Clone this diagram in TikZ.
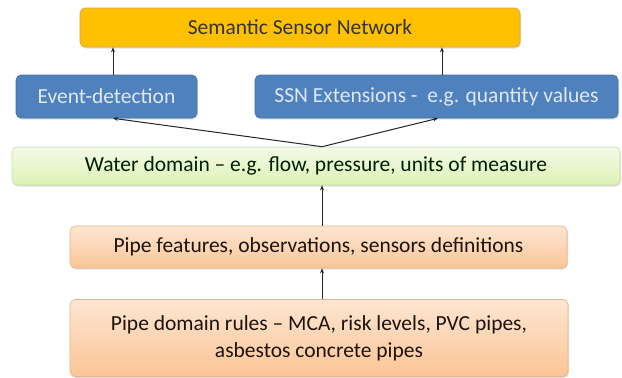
\documentclass[tikz,border=0pt]{standalone}
\usepackage{fontspec}
\setmainfont{Carlito}
\usetikzlibrary{arrows.meta,shadows,calc}
\definecolor{ssnfill}{HTML}{FFC000}
\definecolor{ssnline}{HTML}{D9A05A}
\definecolor{bluefill}{HTML}{4F81BD}
\definecolor{blueline}{HTML}{4171AA}
\definecolor{bluetext}{HTML}{DDE8F5}
\definecolor{greentop}{HTML}{F4FAE8}
\definecolor{greenbot}{HTML}{DDF2B4}
\definecolor{greenline}{HTML}{C9DDA8}
\definecolor{peachtop}{HTML}{FDE6D2}
\definecolor{peachbot}{HTML}{FBC596}
\definecolor{peachline}{HTML}{E8B48C}
\tikzset{
  box/.style={rectangle, rounded corners=5pt, line width=0.6pt, inner sep=2pt,
    font=\fontsize{21.5}{27}\selectfont, align=center,
    drop shadow={shadow xshift=1pt, shadow yshift=-1.5pt, opacity=0.25}},
  goldbox/.style={box, fill=ssnfill, draw=ssnline, text=black!80},
  bluebox/.style={box, fill=bluefill, draw=blueline, text=bluetext},
  greenbox/.style={box, top color=greentop, bottom color=greenbot, draw=greenline, text=black!80!green!60!black},
  peachbox/.style={box, top color=peachtop, bottom color=peachbot, draw=peachline, text=black!85!brown},
  arr/.style={-{Stealth[length=5pt,width=4pt]}, line width=1pt, draw=black!85}
}
\begin{document}
\begin{tikzpicture}[x=1pt,y=-1pt]
\useasboundingbox (0,0) rectangle (622,378);
\node[goldbox, minimum width=440pt, minimum height=39pt] (ssn) at (300,27.5) {Semantic Sensor Network};
\node[bluebox, minimum width=181pt, minimum height=43pt] (ev) at (106.5,96.5) {Event-detection};
\node[bluebox, minimum width=363pt, minimum height=43pt] (ext) at (436.5,96.5) {SSN Extensions -\ \ e.g. quantity values};
\node[greenbox, minimum width=608pt, minimum height=38pt] (water) at (316,166) {Water domain -- e.g. flow, pressure, units of measure};
\node[peachbox, minimum width=497pt, minimum height=42pt] (feat) at (318.5,247) {Pipe features, observations, sensors definitions};
\node[peachbox, minimum width=498pt, minimum height=77pt] (rules) at (319,338) {Pipe domain rules -- MCA, risk levels, PVC pipes,\\asbestos concrete pipes};
\coordinate (fork) at ($(water.north)+(6,0)$);
\draw[arr] ([xshift=6.5pt]ev.north) -- ([xshift=6.5pt]ev.north |- ssn.south);
\draw[arr] ([xshift=5.5pt]ext.north) -- ([xshift=5.5pt]ext.north |- ssn.south);
\draw[arr] (fork) -- ([xshift=6.5pt]ev.south);
\draw[arr] (fork) -- ([xshift=1.5pt]ext.south);
\draw[arr] (feat.north -| fork) -- (water.south -| fork);
\draw[arr] (rules.north -| fork) -- (feat.south -| fork);
\end{tikzpicture}
\end{document}
